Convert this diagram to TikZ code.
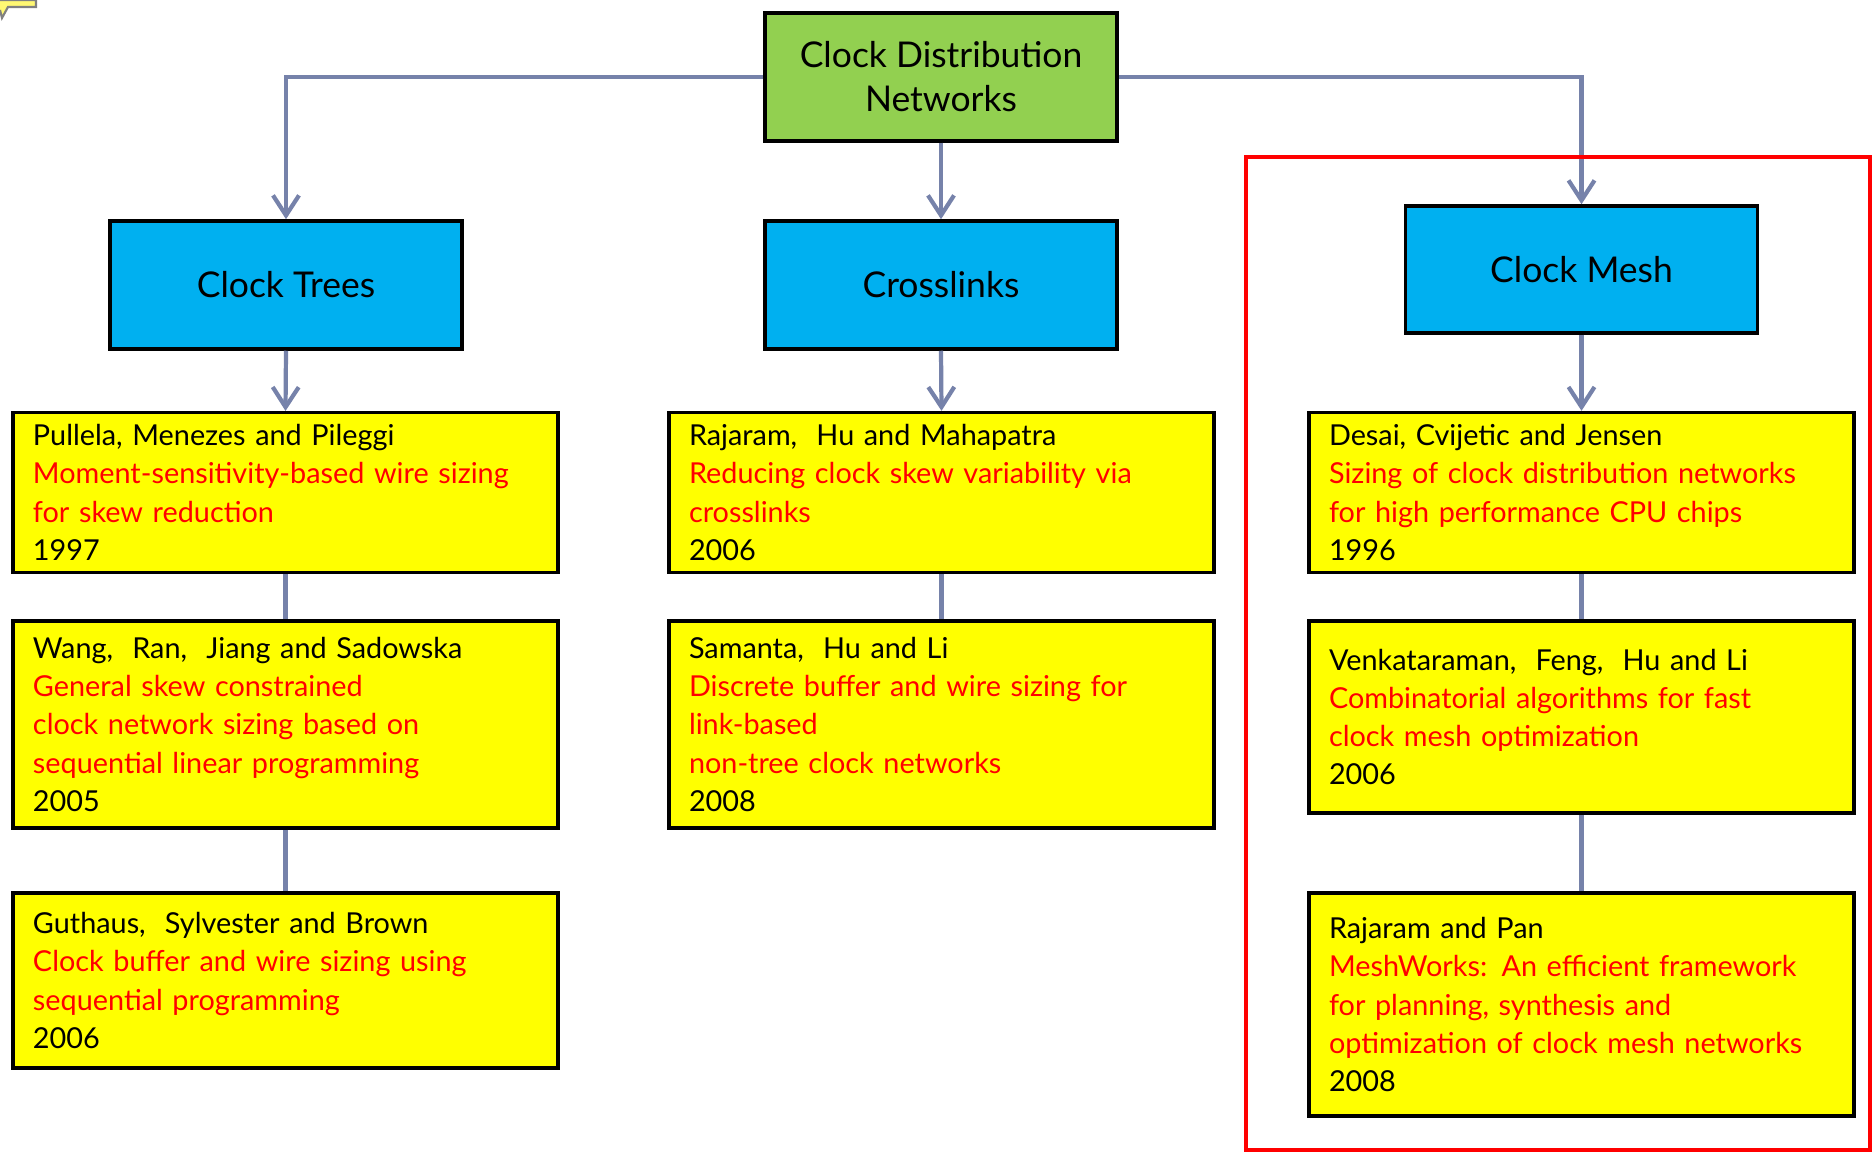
\documentclass[tikz,border=0pt]{standalone}
\usepackage{fontspec}
\setmainfont{Lato}
\usepackage{tikz}
\usetikzlibrary{arrows.meta,positioning,calc}
\definecolor{rootgreen}{RGB}{146,208,80}
\definecolor{catblue}{RGB}{0,176,240}
\definecolor{paperyellow}{RGB}{255,255,0}
\definecolor{linkgray}{RGB}{118,130,170}

\begin{document}
\begin{tikzpicture}[thick]
	\tikzstyle{root} = [rectangle, minimum width=3.52cm, minimum height=1.28cm, align=center,
	fill=rootgreen, draw=black, line width=1pt, font=\fontsize{10.1}{12.5}\selectfont]
	\tikzstyle{category} = [rectangle, minimum width=3.52cm, minimum height=1.28cm, text centered,
	fill=catblue, draw=black, line width=1pt, font=\fontsize{10.1}{12.5}\selectfont]
	\tikzstyle{paper} = [rectangle, minimum width=5.45cm, text width=5.05cm, inner xsep=0.2cm, align=left,
	fill=paperyellow, draw=black, line width=1pt, font=\fontsize{8.2}{10.9}\selectfont]
	\tikzstyle{conn} = [draw=linkgray, line width=1.2pt, -{Straight Barb[length=0.2cm,width=0.26cm]}]
	\tikzstyle{link} = [draw=linkgray, line width=1.2pt]
	\useasboundingbox (0,0) rectangle (18.74,-11.53);
	% callout corner
	\draw[gray, fill=yellow!55, line width=0.6pt] (0,0) -- (0.36,0) -- (0.36,-0.07) -- (0.08,-0.07) -- (0.02,-0.18) -- (0,-0.1);
	% root
	\node (root) at (9.41,-0.77) [root] {Clock Distribution\\Networks};
	% categories
	\node (trees) at (2.86,-2.85) [category] {Clock Trees};
	\node (cross) at (9.41,-2.85) [category] {Crosslinks};
	\node (mesh) at (15.815,-2.695) [category, minimum height=1.27cm] {Clock Mesh};
	\draw[conn] (root.west) -| (trees.north);
	\draw[conn] (root.south) -- (cross.north);
	\draw[conn] (root.east) -| (mesh.north);
	% clock trees
	\node (pullela) at (2.855,-4.925) [paper, minimum height=1.59cm]
		{Pullela, Menezes and Pileggi\\
		{\color{red}Moment-sensitivity-based wire sizing\\ for skew reduction}\\
		1997};
	\node (wang) at (2.855,-7.245) [paper, minimum height=2.07cm]
		{Wang,~ Ran,~ Jiang and Sadowska\\
		{\color{red}General skew constrained\\ clock network sizing based on\\ sequential linear programming}\\
		2005};
	\node (guthaus) at (2.855,-9.805) [paper, minimum height=1.75cm]
		{Guthaus,~ Sylvester and Brown\\
		{\color{red}Clock buffer and wire sizing using\\ sequential programming}\\
		2006};
	\draw[conn] (trees.south) -- (pullela.north);
	\draw[link] (pullela.south) -- (wang.north);
	\draw[link] (wang.south) -- (guthaus.north);
	% crosslinks
	\node (rajaram) at (9.415,-4.925) [paper, minimum height=1.59cm]
		{Rajaram,~ Hu and Mahapatra\\
		{\color{red}Reducing clock skew variability via\\ crosslinks}\\
		2006};
	\node (samanta) at (9.415,-7.245) [paper, minimum height=2.07cm]
		{Samanta,~ Hu and Li\\
		{\color{red}Discrete buffer and wire sizing for\\ link-based\\ non-tree clock networks}\\
		2008};
	\draw[conn] (cross.south) -- (rajaram.north);
	\draw[link] (rajaram.south) -- (samanta.north);
	% clock mesh
	\node (desai) at (15.815,-4.925) [paper, minimum height=1.59cm]
		{Desai, Cvijetic and Jensen\\
		{\color{red}Sizing of clock distribution networks\\ for high performance CPU chips}\\
		1996};
	\node (venkat) at (15.815,-7.17) [paper, minimum height=1.92cm]
		{Venkataraman,~ Feng,~ Hu and Li\\
		{\color{red}Combinatorial algorithms for fast\\ clock mesh optimization}\\
		2006};
	\node (meshworks) at (15.815,-10.045) [paper, minimum height=2.23cm]
		{Rajaram and Pan\\
		{\color{red}MeshWorks: An efficient framework\\ for planning, synthesis and\\ optimization of clock mesh networks}\\
		2008};
	\draw[conn] (mesh.south) -- (desai.north);
	\draw[link] (desai.south) -- (venkat.north);
	\draw[link] (venkat.south) -- (meshworks.north);
	% highlight
	\draw[red, line width=0.9pt] (12.46,-1.57) rectangle (18.70,-11.50);
\end{tikzpicture}
\end{document}
